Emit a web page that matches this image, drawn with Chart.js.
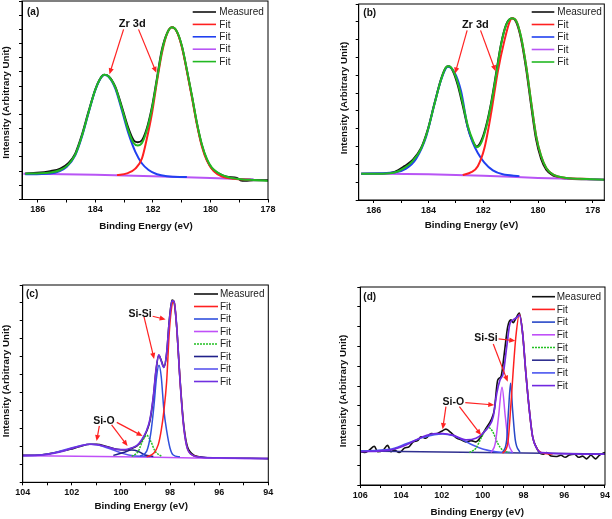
<!DOCTYPE html>
<html lang="en">
<head>
    <meta charset="UTF-8">
    <title>XPS Zr 3d / Si 2p</title>
    <script src="https://cdn.jsdelivr.net/npm/chart.js"></script>
    <style>
        body { margin: 0; background: #fff; }
        #wrap { position: relative; width: 612px; height: 519px; }
        canvas { position: absolute; }
    </style>
</head>
<body>
<div id="wrap">
    <canvas id="chartA" width="306" height="240" style="left:0;top:0"></canvas>
    <canvas id="chartB" width="306" height="240" style="left:306px;top:0"></canvas>
    <canvas id="chartC" width="306" height="259" style="left:0;top:260px"></canvas>
    <canvas id="chartD" width="306" height="259" style="left:306px;top:260px"></canvas>
</div>
<script>
// ---- (a) Zr 3d, sample a : [binding energy, intensity]
const aMeasured = [[186.44,0.92],[186.03,0.94],[185.57,1.0],[185.22,1.09],[184.93,1.29],[184.70,1.62],[184.47,2.27],[184.24,3.09],[184.01,3.86],[183.83,4.27],[183.69,4.40],[183.54,4.35],[183.31,3.98],[183.08,3.27],[182.85,2.51],[182.67,2.09],[182.53,2.02],[182.38,2.09],[182.21,2.51],[182.03,3.27],[181.86,4.27],[181.69,5.27],[181.51,5.86],[181.34,6.07],[181.17,5.92],[180.99,5.39],[180.82,4.56],[180.64,3.62],[180.47,2.68],[180.30,1.92],[180.12,1.39],[179.95,1.09],[179.72,0.92],[179.43,0.80],[179.08,0.76],[178.96,0.68],[178.79,0.66],[178.50,0.68],[177.98,0.68]];
const aFitRed = [[183.25,0.86],[182.90,0.92],[182.61,1.09],[182.38,1.45],[182.21,2.15],[182.03,3.05],[181.86,4.15],[181.69,5.15],[181.51,5.84],[181.34,6.07],[181.17,5.92],[180.99,5.36],[180.82,4.53],[180.64,3.58],[180.47,2.64],[180.30,1.88],[180.12,1.36],[179.89,1.0],[179.60,0.81],[179.19,0.73],[178.6,0.70]];
const aFitBlue = [[186.44,0.89],[185.57,0.92],[185.0,1.15],[184.70,1.56],[184.47,2.21],[184.24,3.04],[184.01,3.84],[183.83,4.25],[183.69,4.39],[183.54,4.33],[183.31,3.92],[183.08,3.15],[182.85,2.33],[182.61,1.68],[182.38,1.27],[182.15,1.04],[181.86,0.89],[181.51,0.82],[180.82,0.79]];
const aFitBase = [[186.5,0.91],[184,0.87],[182,0.82],[180,0.76],[178.5,0.71]];
const aFitSum = [[186.44,0.91],[186.03,0.92],[185.57,0.95],[185.22,1.04],[184.93,1.24],[184.70,1.58],[184.47,2.23],[184.24,3.06],[184.01,3.85],[183.83,4.26],[183.69,4.40],[183.54,4.34],[183.31,3.96],[183.08,3.22],[182.85,2.43],[182.67,1.99],[182.53,1.90],[182.38,1.99],[182.21,2.45],[182.03,3.22],[181.86,4.22],[181.69,5.22],[181.51,5.85],[181.34,6.07],[181.17,5.93],[180.99,5.40],[180.82,4.58],[180.64,3.64],[180.47,2.70],[180.30,1.95],[180.12,1.42],[179.95,1.12],[179.72,0.93],[179.43,0.80],[179.08,0.73],[178.79,0.70],[178.50,0.69],[177.98,0.66]];

// ---- (b) Zr 3d, sample b
const bMeasured = [[186.46,0.24],[185.67,0.24],[185.24,0.29],[184.88,0.45],[184.57,0.63],[184.27,0.96],[184.03,1.47],[183.78,2.22],[183.54,2.90],[183.36,3.22],[183.26,3.25],[183.11,3.12],[182.93,2.72],[182.75,2.15],[182.57,1.55],[182.38,1.14],[182.24,1.00],[182.08,1.15],[181.90,1.57],[181.71,2.24],[181.53,3.06],[181.35,3.88],[181.16,4.43],[180.95,4.60],[180.80,4.50],[180.62,4.02],[180.43,3.16],[180.25,2.14],[180.07,1.20],[179.89,0.66],[179.70,0.35],[179.46,0.19],[178.97,0.10],[178.24,0.08],[177.57,0.07]];
const bFitRed = [[182.75,0.20],[182.44,0.28],[182.20,0.45],[181.96,0.95],[181.71,1.95],[181.47,3.10],[181.22,4.00],[181.04,4.50],[180.95,4.60],[180.80,4.53],[180.62,4.07],[180.43,3.24],[180.25,2.24],[180.07,1.30],[179.89,0.74],[179.70,0.40],[179.46,0.22],[178.97,0.12],[178.12,0.09]];
const bFitBlue = [[186.46,0.24],[185.24,0.27],[184.82,0.38],[184.45,0.66],[184.09,1.27],[183.78,2.2],[183.54,2.87],[183.30,3.24],[183.05,3.08],[182.81,2.55],[182.57,1.55],[182.38,1.10],[182.20,0.82],[181.96,0.55],[181.65,0.33],[181.29,0.22],[180.68,0.17]];
const bFitBase = [[186.46,0.24],[184,0.22],[182,0.18],[180,0.12],[177.57,0.07]];
const bFitSum = [[186.46,0.24],[185.67,0.24],[185.24,0.27],[184.88,0.40],[184.57,0.60],[184.27,0.94],[184.03,1.45],[183.78,2.2],[183.54,2.88],[183.36,3.22],[183.26,3.25],[183.11,3.14],[182.93,2.78],[182.75,2.22],[182.57,1.60],[182.38,1.17],[182.24,0.98],[182.08,1.10],[181.90,1.52],[181.71,2.20],[181.53,3.02],[181.35,3.86],[181.16,4.42],[180.95,4.60],[180.80,4.53],[180.62,4.08],[180.43,3.24],[180.25,2.24],[180.07,1.30],[179.89,0.74],[179.70,0.40],[179.46,0.22],[178.97,0.12],[178.24,0.09],[177.57,0.07]];

// ---- (c) Si 2p, sample c
const cMeasured = [[104,0.25],[103.29,0.26],[102.89,0.3],[102.48,0.36],[102.07,0.42],[101.67,0.5],[101.26,0.56],[100.99,0.56],[100.58,0.5],[100.17,0.42],[99.83,0.4],[99.56,0.45],[99.36,0.51],[99.16,0.65],[98.95,0.93],[98.82,1.21],[98.68,1.87],[98.57,2.62],[98.46,3.04],[98.36,2.9],[98.25,2.71],[98.14,3.08],[98.03,4.02],[97.92,4.58],[97.84,4.53],[97.73,3.83],[97.6,2.43],[97.46,1.21],[97.32,0.56],[97.12,0.3],[96.78,0.21],[96.1,0.17],[95.42,0.17],[94.75,0.17],[94,0.16]];
const cFit1 = [[98.95,0.21],[98.68,0.3],[98.48,0.55],[98.36,0.95],[98.25,1.5],[98.14,2.3],[98.03,3.7],[97.92,4.45],[97.86,4.56],[97.8,4.4],[97.73,3.83],[97.6,2.4],[97.46,1.15],[97.32,0.5],[97.12,0.27],[96.78,0.2]];
const cFit2 = [[99.22,0.23],[98.95,0.37],[98.79,0.84],[98.65,1.68],[98.55,2.43],[98.45,2.76],[98.36,2.45],[98.25,1.5],[98.14,0.95],[98.0,0.45],[97.87,0.26],[97.6,0.21]];
const cFit3 = [[104,0.24],[100,0.21],[97,0.18],[94,0.16]];
const cFit4 = [[99.56,0.22],[99.29,0.37],[99.12,0.65],[98.95,0.81],[98.79,0.65],[98.61,0.37],[98.34,0.22]];
const cFit5 = [[100.31,0.25],[99.9,0.33],[99.56,0.4],[99.29,0.36],[99.02,0.26],[98.68,0.22]];
const cFit6 = [[104,0.24],[103.29,0.26],[102.75,0.32],[102.21,0.42],[101.67,0.52],[101.19,0.56],[100.72,0.5],[100.31,0.4],[99.9,0.3],[99.5,0.24],[98.82,0.22]];
const cFit7 = [[104,0.25],[103.29,0.26],[102.89,0.29],[102.48,0.35],[102.07,0.43],[101.67,0.51],[101.26,0.56],[100.99,0.55],[100.58,0.49],[100.17,0.42],[99.83,0.41],[99.56,0.46],[99.36,0.52],[99.16,0.68],[98.95,0.95],[98.82,1.25],[98.68,1.9],[98.57,2.65],[98.46,3.05],[98.36,2.88],[98.25,2.7],[98.14,3.1],[98.03,4.0],[97.92,4.56],[97.84,4.55],[97.73,3.85],[97.6,2.4],[97.46,1.15],[97.32,0.5],[97.12,0.27],[96.78,0.2],[96.1,0.18],[94,0.16]];

// ---- (d) Si 2p, sample d
const dMeasured = [[106.0,0.84],[105.8,0.82],[105.56,0.88],[105.31,0.98],[105.15,0.84],[104.9,0.87],[104.66,1.0],[104.5,0.84],[104.33,0.88],[104.09,0.82],[103.84,0.93],[103.6,0.97],[103.4,1.09],[103.19,1.12],[103.02,1.22],[102.78,1.18],[102.53,1.3],[102.29,1.29],[102.04,1.35],[101.8,1.41],[101.55,1.32],[101.31,1.2],[101.06,1.14],[100.82,1.09],[100.57,1.12],[100.33,1.09],[100.08,1.22],[99.84,1.43],[99.59,1.64],[99.43,1.89],[99.26,2.65],[99.1,2.74],[98.94,3.32],[98.77,4.0],[98.61,4.17],[98.5,4.1],[98.37,4.21],[98.2,4.34],[98.04,3.83],[97.88,2.82],[97.71,1.89],[97.55,1.22],[97.38,0.97],[97.22,0.82],[97.03,0.78],[96.86,0.82],[96.65,0.73],[96.4,0.72],[96.16,0.75],[95.95,0.7],[95.75,0.76],[95.5,0.78],[95.29,0.7],[95.1,0.73],[94.9,0.66],[94.69,0.75],[94.47,0.66],[94.28,0.75],[94.0,0.82]];
const dFit1 = [[99.02,0.8],[98.77,1.05],[98.61,2.06],[98.5,2.9],[98.37,3.75],[98.2,4.31],[98.04,3.83],[97.88,2.82],[97.71,1.89],[97.55,1.22],[97.35,0.93],[97.14,0.82],[96.57,0.78]];
const dFit2 = [[99.02,0.82],[98.82,1.14],[98.73,1.89],[98.63,2.57],[98.53,1.89],[98.4,1.14],[98.17,0.82]];
const dFit3 = [[99.59,0.82],[99.38,1.05],[99.22,1.73],[99.05,2.47],[98.89,1.73],[98.73,1.05],[98.53,0.82]];
const dFit4 = [[100.65,0.82],[100.33,0.93],[100.08,1.18],[99.84,1.41],[99.71,1.45],[99.51,1.35],[99.26,1.05],[99.02,0.88],[98.69,0.82]];
const dFit5 = [[106,0.86],[100,0.82],[94,0.78]];
const dFit6 = [[106,0.86],[104.58,0.9],[103.76,1.04],[102.94,1.2],[102.37,1.27],[101.96,1.29],[101.47,1.25],[100.98,1.14],[100.49,1.01],[100.0,0.91],[99.35,0.84],[98.53,0.82]];
const dFit7 = [[106,0.84],[104.58,0.88],[103.76,1.01],[102.94,1.22],[102.29,1.3],[101.96,1.3],[101.47,1.26],[100.82,1.14],[100.33,1.18],[100.0,1.3],[99.71,1.47],[99.48,1.73],[99.31,2.31],[99.15,2.65],[98.99,2.82],[98.82,3.49],[98.66,4.08],[98.5,4.17],[98.33,4.23],[98.2,4.29],[98.04,3.83],[97.88,2.82],[97.71,1.89],[97.55,1.22],[97.35,0.93],[97.14,0.82],[94.0,0.78]];

// axis ranges
const aXRange = [178, 186.55], aYRange = [0, 7];
const bXRange = [177.58, 186.55], bYRange = [-0.5, 5];
const cXRange = [94, 104], cYRange = [-0.5, 5];
const dXRange = [94, 106], dYRange = [0, 5];

const FONT = '"Liberation Sans", Arial, sans-serif';
Chart.defaults.font.family = FONT;

function line(label, pts, color, width, order, dash) {
    return {
        label: label,
        data: pts.map(p => ({ x: p[0], y: p[1] })),
        borderColor: color,
        borderWidth: width,
        borderDash: dash || [],
        order: order,
        pointRadius: 0,
        fill: false
    };
}

function arrow(ctx, x0, y0, x1, y1) {
    const a = Math.atan2(y1 - y0, x1 - x0), L = 6, W = 2.6;
    ctx.beginPath();
    ctx.moveTo(x0, y0);
    ctx.lineTo(x1 - 3 * Math.cos(a), y1 - 3 * Math.sin(a));
    ctx.stroke();
    ctx.beginPath();
    ctx.moveTo(x1, y1);
    ctx.lineTo(x1 - L * Math.cos(a) + W * Math.sin(a), y1 - L * Math.sin(a) - W * Math.cos(a));
    ctx.lineTo(x1 - L * Math.cos(a) - W * Math.sin(a), y1 - L * Math.sin(a) + W * Math.cos(a));
    ctx.closePath();
    ctx.fill();
}

// frame, titles, legend and arrows
const decor = {
    id: 'decor',
    afterDraw(chart, args, o) {
        const ctx = chart.ctx, ca = chart.chartArea;
        const xs = chart.scales.x, ys = chart.scales.y;
        ctx.save();
        ctx.strokeStyle = '#000';
        ctx.lineWidth = 1;
        ctx.setLineDash([]);
        ctx.strokeRect(ca.left, ca.top, ca.right - ca.left, ca.bottom - ca.top);

        ctx.fillStyle = '#111';
        ctx.textBaseline = 'middle';
        ctx.textAlign = 'left';
        ctx.font = 'bold 10px ' + FONT;
        ctx.fillText(o.tag, o.tagX, o.tagY);

        ctx.textAlign = 'center';
        ctx.font = 'bold 9.8px ' + FONT;
        ctx.fillText('Binding Energy (eV)', o.xtX, o.xtY);
        ctx.save();
        ctx.translate(o.ytX, o.ytY);
        ctx.rotate(-Math.PI / 2);
        ctx.fillText('Intensity (Arbitrary Unit)', 0, 0);
        ctx.restore();

        // legend
        ctx.textAlign = 'left';
        ctx.font = '10px ' + FONT;
        chart.data.datasets.forEach((ds, i) => {
            const ly = o.legY + i * o.legStep;
            ctx.strokeStyle = ds.borderColor;
            ctx.lineWidth = 1.6;
            ctx.setLineDash(ds.borderDash || []);
            ctx.beginPath();
            ctx.moveTo(o.legX0, ly);
            ctx.lineTo(o.legX1, ly);
            ctx.stroke();
            ctx.fillStyle = '#222';
            ctx.fillText(ds.label, o.legTx, ly + 0.5);
        });
        ctx.setLineDash([]);

        // annotations
        ctx.strokeStyle = '#f22';
        ctx.fillStyle = '#f22';
        ctx.lineWidth = 1.2;
        o.arrows.forEach(a => arrow(ctx, xs.getPixelForValue(a[0]), ys.getPixelForValue(a[1]),
                                         xs.getPixelForValue(a[2]), ys.getPixelForValue(a[3])));
        ctx.fillStyle = '#111';
        ctx.textAlign = 'center';
        o.notes.forEach(n => {
            ctx.font = 'bold ' + n.size + 'px ' + FONT;
            ctx.fillText(n.t, xs.getPixelForValue(n.x), ys.getPixelForValue(n.y));
        });
        ctx.restore();
    }
};

function makeChart(id, box, xr, yr, datasets, deco) {
    return new Chart(document.getElementById(id), {
        type: 'line',
        data: { datasets: datasets },
        options: {
            responsive: false,
            animation: false,
            layout: { padding: { left: 0, top: box.top, right: box.w - box.right, bottom: 0 } },
            elements: { line: { cubicInterpolationMode: 'monotone' }, point: { radius: 0 } },
            plugins: { legend: { display: false }, tooltip: { enabled: false }, decor: deco },
            scales: {
                x: {
                    type: 'linear', reverse: true, min: xr[0], max: xr[1],
                    border: { color: '#000', width: 1 },
                    grid: { drawOnChartArea: false, tickLength: 3, color: '#000' },
                    ticks: {
                        stepSize: 1, includeBounds: false, autoSkip: false, maxRotation: 0, padding: 2,
                        color: '#111', font: { size: 9, weight: 'bold' },
                        callback: v => (Math.abs(v % 2) < 1e-6 ? String(v) : '')
                    },
                    afterFit: s => { s.height = box.h - box.bottom; }
                },
                y: {
                    min: yr[0], max: yr[1],
                    border: { color: '#000', width: 1 },
                    grid: { drawOnChartArea: false, tickLength: 3, color: '#000' },
                    ticks: { stepSize: 0.5, display: false },
                    afterFit: s => { s.width = box.left; }
                }
            }
        },
        plugins: [decor]
    });
}

// (a)
makeChart('chartA', { w: 306, h: 240, left: 22, right: 268, top: 1, bottom: 199.5 }, aXRange, aYRange, [
    line('Measured', aMeasured, '#111', 2, 9),
    line('Fit', aFitRed, '#ff2020', 2, 3),
    line('Fit', aFitBlue, '#2040f0', 2, 4),
    line('Fit', aFitBase, '#b855f5', 2, 8),
    line('Fit', aFitSum, '#22b822', 2, 1)
], {
    tag: '(a)', tagX: 27, tagY: 12, xtX: 146, xtY: 226, ytX: 6, ytY: 102.5,
    legX0: 192.7, legX1: 216, legTx: 219.3, legY: 12, legStep: 12.4,
    notes: [{ t: 'Zr 3d', x: 182.72, y: 6.19, size: 11 }],
    arrows: [[183.02, 6.0, 183.51, 4.42], [182.5, 6.0, 181.88, 4.47]]
});

// (b)
makeChart('chartB', { w: 306, h: 240, left: 52.7, right: 298.3, top: 4, bottom: 200 }, bXRange, bYRange, [
    line('Measured', bMeasured, '#111', 2, 9),
    line('Fit', bFitRed, '#ff2020', 2, 3),
    line('Fit', bFitBlue, '#2040f0', 2, 4),
    line('Fit', bFitBase, '#b855f5', 2, 8),
    line('Fit', bFitSum, '#22b822', 2, 1)
], {
    tag: '(b)', tagX: 57.3, tagY: 13.3, xtX: 165.5, xtY: 225, ytX: 38.5, ytY: 98,
    legX0: 225.7, legX1: 248.3, legTx: 251.3, legY: 12, legStep: 12.5,
    notes: [{ t: 'Zr 3d', x: 182.29, y: 4.41, size: 11 }],
    arrows: [[182.59, 4.26, 183.03, 3.05], [182.10, 4.26, 181.55, 3.11]]
});

// (c)
makeChart('chartC', { w: 306, h: 259, left: 22.7, right: 268.3, top: 25, bottom: 222.3 }, cXRange, cYRange, [
    line('Measured', cMeasured, '#111', 1.6, 9),
    line('Fit', cFit1, '#ff2020', 1.5, 3),
    line('Fit', cFit2, '#3050dd', 1.5, 4),
    line('Fit', cFit3, '#c050f8', 1.5, 8),
    line('Fit', cFit4, '#22c022', 1.5, 5, [2, 1]),
    line('Fit', cFit5, '#20208a', 1.5, 6),
    line('Fit', cFit6, '#5a55ee', 1.5, 7),
    line('Fit', cFit7, '#7030e0', 1.7, 1)
], {
    tag: '(c)', tagX: 26, tagY: 34, xtX: 141.2, xtY: 246.7, ytX: 6, ytY: 121,
    legX0: 194, legX1: 218, legTx: 220, legY: 34, legStep: 12.5,
    notes: [{ t: 'Si-Si', x: 99.22, y: 4.2, size: 10.5 }, { t: 'Si-O', x: 100.69, y: 1.21, size: 10.5 }],
    arrows: [[99.06, 4.11, 98.65, 2.94], [98.71, 4.13, 98.18, 4.04], [100.88, 1.07, 100.99, 0.65],
             [100.38, 1.10, 99.73, 0.51], [100.17, 1.17, 99.12, 0.79]]
});

// (d)
makeChart('chartD', { w: 306, h: 259, left: 54.3, right: 299, top: 27, bottom: 225 }, dXRange, dYRange, [
    line('Measured', dMeasured, '#111', 1.6, 9),
    line('Fit', dFit1, '#ff2020', 1.5, 3),
    line('Fit', dFit2, '#2848c8', 1.5, 4),
    line('Fit', dFit3, '#c050f8', 1.5, 5),
    line('Fit', dFit4, '#22c022', 1.5, 6, [2, 1]),
    line('Fit', dFit5, '#303090', 1.5, 8),
    line('Fit', dFit6, '#4a55f0', 1.5, 7),
    line('Fit', dFit7, '#7028e0', 1.7, 1)
], {
    tag: '(d)', tagX: 57.3, tagY: 37.3, xtX: 171.3, xtY: 252, ytX: 37, ytY: 131,
    legX0: 226, legX1: 249, legTx: 250.7, legY: 36.7, legStep: 12.7,
    notes: [{ t: 'Si-Si', x: 99.84, y: 3.7, size: 10.5 }, { t: 'Si-O', x: 101.44, y: 2.1, size: 10.5 }],
    arrows: [[99.22, 3.69, 98.40, 3.64], [99.48, 3.56, 98.77, 2.61], [101.8, 1.98, 101.96, 1.41],
             [101.14, 1.98, 100.08, 1.26], [100.85, 2.08, 99.43, 2.02]]
});
</script>
</body>
</html>
